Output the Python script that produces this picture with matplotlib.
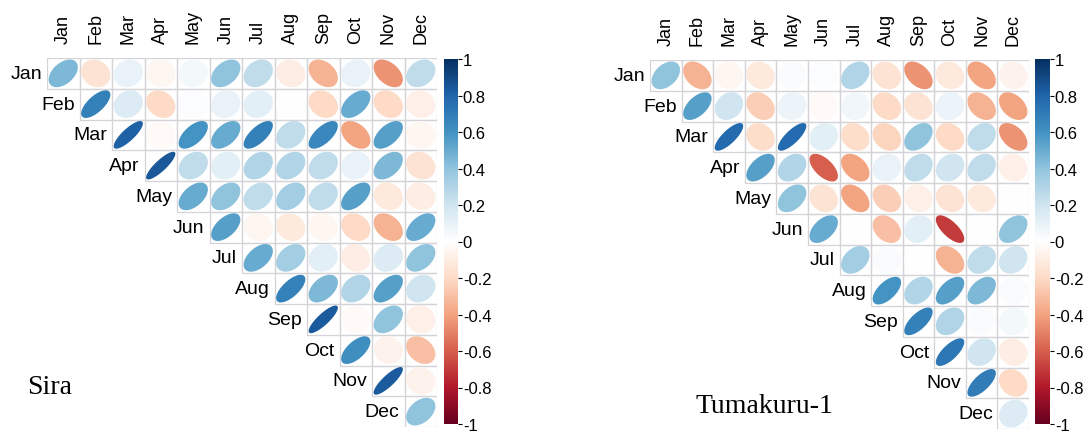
import numpy as np
import matplotlib.pyplot as plt
from matplotlib.colors import LinearSegmentedColormap, Normalize
from matplotlib.patches import Polygon, Rectangle

plt.rcParams["font.family"] = ["Liberation Sans", "DejaVu Sans"]

months = ["Jan", "Feb", "Mar", "Apr", "May", "Jun",
          "Jul", "Aug", "Sep", "Oct", "Nov", "Dec"]

# upper triangle, row i holds columns i..Dec
sira = [
    [0.45, -0.15, 0.10, -0.05, 0.05, 0.40, 0.25, -0.10, -0.35, 0.10, -0.45, 0.25],
    [0.68, 0.15, -0.20, 0.02, 0.10, 0.12, 0.00, -0.20, 0.50, -0.20, -0.08],
    [0.82, -0.03, 0.60, 0.50, 0.68, 0.25, 0.65, -0.40, 0.55, -0.05],
    [0.85, 0.25, 0.12, 0.30, 0.30, 0.25, 0.10, 0.45, -0.15],
    [0.50, 0.40, 0.25, 0.35, 0.25, 0.55, -0.12, -0.10],
    [0.55, -0.05, -0.12, -0.05, -0.20, -0.35, 0.50],
    [0.50, 0.35, 0.12, -0.10, 0.15, 0.40],
    [0.68, 0.45, 0.30, 0.55, 0.20],
    [0.84, -0.03, 0.40, -0.08],
    [0.62, -0.07, -0.30],
    [0.84, -0.07],
    [0.40],
]

tumakuru = [
    [0.40, -0.35, -0.05, -0.12, 0.03, 0.02, 0.30, -0.15, -0.45, -0.12, -0.40, -0.07],
    [0.55, 0.20, -0.25, 0.08, -0.03, 0.07, -0.20, -0.15, 0.08, -0.35, -0.40],
    [0.78, -0.18, 0.78, 0.12, -0.18, -0.22, 0.40, -0.20, 0.25, -0.45],
    [0.55, 0.30, -0.60, -0.40, 0.10, 0.25, 0.20, 0.25, -0.08],
    [0.40, -0.15, -0.40, -0.25, -0.08, -0.15, -0.12, 0.00],
    [0.50, 0.00, -0.30, 0.12, -0.70, 0.00, 0.40],
    [0.35, 0.03, 0.00, -0.35, 0.25, 0.20],
    [0.60, 0.30, 0.55, 0.45, 0.03],
    [0.68, 0.30, 0.03, 0.05],
    [0.72, 0.20, -0.10],
    [0.70, -0.20],
    [0.15],
]

cbar_ticks = [1, 0.8, 0.6, 0.4, 0.2, 0, -0.2, -0.4, -0.6, -0.8, -1]
cbar_labels = ["1", "0.8", "0.6", "0.4", "0.2", "0",
               "-0.2", "-0.4", "-0.6", "-0.8", "-1"]

# RdBu palette as used by corrplot
cmap = LinearSegmentedColormap.from_list("corr", [
    "#67001F", "#B2182B", "#D6604D", "#F4A582", "#FDDBC7", "#FFFFFF",
    "#D1E5F0", "#92C5DE", "#4393C3", "#2166AC", "#053061"])
norm = Normalize(-1, 1)

W, H = 1085, 435
fig = plt.figure(figsize=(W / 100, H / 100), dpi=100)


def px_axes(x0, y0, x1, y1):
    return fig.add_axes([x0 / W, 1 - y1 / H, (x1 - x0) / W, (y1 - y0) / H])


def draw_panel(ax, rows):
    t = np.linspace(0, 2 * np.pi, 100)
    for i, row in enumerate(rows):
        for k, r in enumerate(row):
            j = i + k
            ax.add_patch(Rectangle((j, i), 1, 1, fill=False,
                                   edgecolor="#D4D4D8", lw=0.9))
            d = np.arccos(r)
            ex = 0.45 * np.cos(t + d / 2)
            ey = 0.45 * np.cos(t - d / 2)
            pts = np.column_stack([j + 0.5 + ex, i + 0.5 - ey])
            ax.add_patch(Polygon(pts, closed=True, facecolor=cmap(norm(r)),
                                 edgecolor="none"))
        ax.text(i - 0.15, i + 0.5, months[i], ha="right", va="center",
                fontsize=14)
    for j, m in enumerate(months):
        ax.text(j + 0.5, -0.5, m, rotation=90, ha="center", va="bottom",
                fontsize=13)
    ax.set_xlim(0, 12)
    ax.set_ylim(12, 0)
    ax.axis("off")


def draw_cbar(cax):
    grad = np.linspace(-1, 1, 256).reshape(-1, 1)
    cax.imshow(grad, aspect="auto", cmap=cmap, origin="lower",
               extent=[0, 1, -1, 1])
    cax.set_ylim(-1, 1)
    cax.set_xticks([])
    cax.yaxis.tick_right()
    cax.set_yticks(cbar_ticks)
    cax.set_yticklabels(cbar_labels)
    cax.tick_params(axis="y", length=3, width=0.8, pad=0.5, labelsize=12)
    for s in cax.spines.values():
        s.set_visible(False)


ax1 = px_axes(47, 59, 437, 428)
draw_panel(ax1, sira)
draw_cbar(px_axes(444, 60, 458, 425))

ax2 = px_axes(650, 61, 1029, 430)
draw_panel(ax2, tumakuru)
draw_cbar(px_axes(1035, 60, 1050, 425))

fig.text(27 / W, 1 - 394 / H, "Sira", family="Liberation Serif",
         fontsize=20, ha="left", va="baseline")
fig.text(695 / W, 1 - 413 / H, "Tumakuru-1", family="Liberation Serif",
         fontsize=20, ha="left", va="baseline")

fig.savefig("out.png", dpi=100)
